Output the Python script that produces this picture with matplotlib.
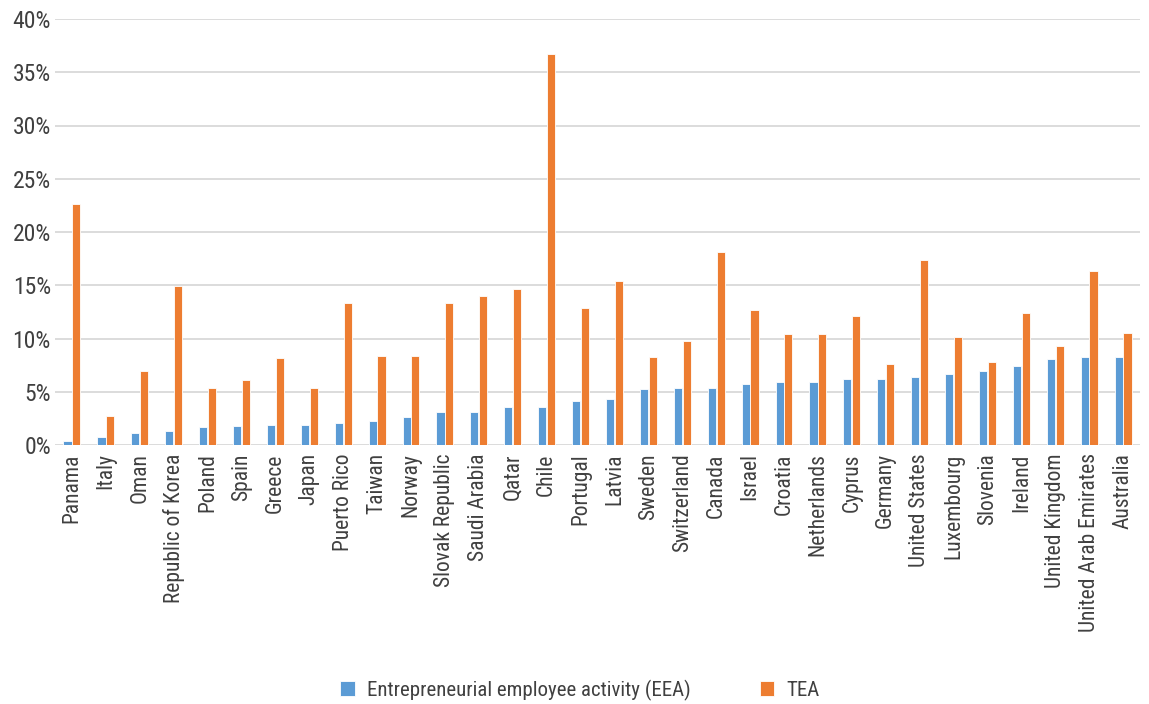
import numpy as np
import matplotlib
matplotlib.use("Agg")
import matplotlib.pyplot as plt
from matplotlib.ticker import PercentFormatter

plt.rcParams['font.family'] = ['Roboto Condensed', 'DejaVu Sans']

countries = ["Panama", "Italy", "Oman", "Republic of Korea", "Poland", "Spain",
             "Greece", "Japan", "Puerto Rico", "Taiwan", "Norway",
             "Slovak Republic", "Saudi Arabia", "Qatar", "Chile", "Portugal",
             "Latvia", "Sweden", "Switzerland", "Canada", "Israel", "Croatia",
             "Netherlands", "Cyprus", "Germany", "United States", "Luxembourg",
             "Slovenia", "Ireland", "United Kingdom", "United Arab Emirates",
             "Australia"]

eea = [0.38, 0.72, 1.16, 1.35, 1.69, 1.76, 1.85, 1.91, 2.07, 2.29, 2.63,
       3.07, 3.13, 3.57, 3.57, 4.11, 4.33, 5.24, 5.33, 5.39, 5.74, 5.89,
       5.96, 6.18, 6.24, 6.39, 6.65, 6.99, 7.43, 8.06, 8.24, 8.28]

tea = [22.66, 2.73, 6.96, 14.92, 5.36, 6.14, 8.18, 5.36, 13.35, 8.34, 8.34,
       13.32, 13.95, 14.67, 36.74, 12.85, 15.42, 8.24, 9.75, 18.12, 12.70,
       10.44, 10.38, 12.13, 7.59, 17.40, 10.13, 7.77, 12.41, 9.28, 16.36,
       10.50]

blue = "#5B9BD5"
orange = "#ED7D31"
txt = "#404040"

fig = plt.figure(figsize=(11.49, 7.04), dpi=100)
ax = fig.add_axes([55/1149, 1 - 445/704, 1085/1149, (445-19)/704])

x = np.arange(len(countries))
w = 0.24
ax.bar(x - 0.13, eea, w, color=blue, edgecolor="white", linewidth=0.6,
       label="Entrepreneurial employee activity (EEA)", zorder=3)
ax.bar(x + 0.13, tea, w, color=orange, edgecolor="white", linewidth=0.6,
       label="TEA", zorder=3)

ax.set_xlim(-0.5, len(countries) - 0.5)
ax.set_ylim(0, 40)
ax.set_yticks(np.arange(0, 41, 5))
ax.yaxis.set_major_formatter(PercentFormatter(decimals=0))
ax.grid(axis='y', color="#D9D9D9", linewidth=1.3, zorder=0)
for s in ax.spines.values():
    s.set_visible(False)
ax.tick_params(axis='both', length=0, colors=txt, labelsize=17)
ax.tick_params(axis='y', pad=3)
ax.tick_params(axis='x', pad=6)
ax.set_xticks(x)
ax.set_xticklabels(countries, rotation=90, fontsize=15.5, color=txt)

ax.legend(loc='center', bbox_to_anchor=((580-55)/1085, (445-690)/426), ncol=2,
          frameon=False, fontsize=15, handlelength=0.7, handleheight=0.7,
          handletextpad=0.6, columnspacing=3.3, labelcolor=txt)

fig.savefig("out.png", dpi=100)
